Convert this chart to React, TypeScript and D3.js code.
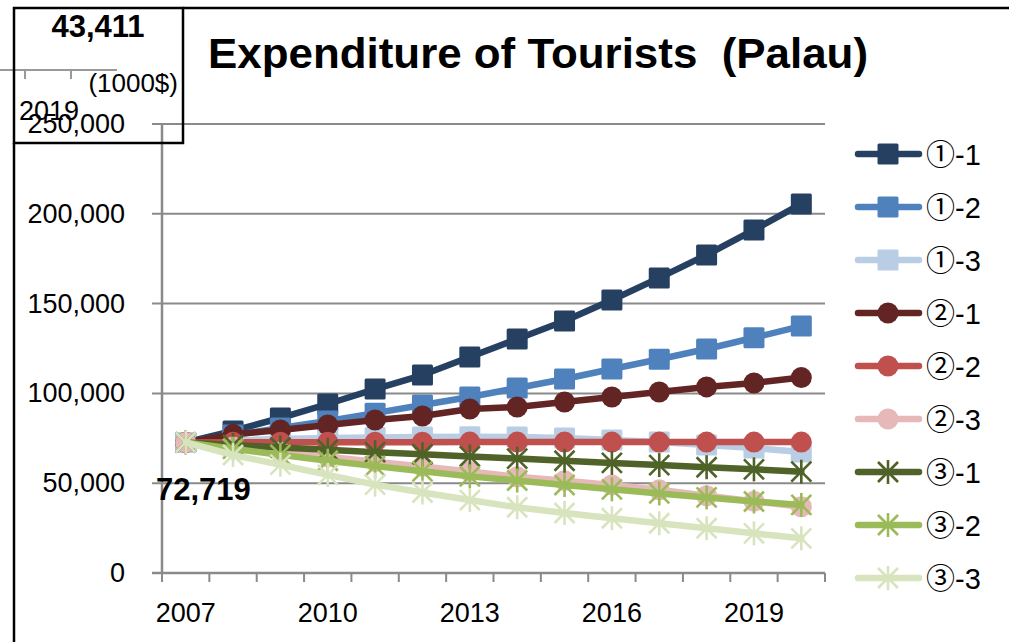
import React from "react";
import * as d3 from "d3";

const years = [2007, 2008, 2009, 2010, 2011, 2012, 2013, 2014, 2015, 2016, 2017, 2018, 2019, 2020];
const yearLabels = [2007, 2010, 2013, 2016, 2019];
const yTicks = [0, 50000, 100000, 150000, 200000, 250000];

const seriesNames = ["①-1", "①-2", "①-3", "②-1", "②-2", "②-3", "③-1", "③-2", "③-3"];
const seriesColors = ["#254061", "#4F81BD", "#B9CDE5", "#632523", "#C0504D", "#E6B9B8", "#4F6228", "#9BBB59", "#D7E4BD"];
const seriesMarkers = ["square", "square", "square", "circle", "circle", "circle", "star", "star", "star"];

const s11 = [72719, 79100, 86300, 94100, 102400, 110200, 120300, 130300, 140300, 152000, 164300, 177100, 191000, 205500];
const s12 = [72719, 76800, 80700, 84600, 89000, 93500, 98000, 103000, 108000, 113600, 119000, 124700, 131000, 137500];
const s13 = [72719, 73800, 74600, 75200, 75500, 75700, 75800, 75700, 75200, 74100, 73000, 71300, 69600, 67400];
const s21 = [72719, 77200, 79600, 82400, 85200, 87400, 91300, 92400, 95200, 98000, 100800, 103600, 105800, 108800];
const s22 = [72719, 72750, 72800, 72800, 72850, 72850, 72900, 72900, 72900, 72900, 72900, 72900, 72900, 72900];
const s23 = [72719, 70100, 67400, 64700, 62000, 59300, 56500, 53600, 51400, 49000, 46300, 43000, 39900, 36900];
const s31 = [72719, 71300, 69900, 68600, 67300, 66100, 64900, 63700, 62500, 61300, 60100, 58900, 57700, 56400];
const s32 = [72719, 69200, 65800, 62500, 59500, 56600, 53800, 51500, 49000, 46600, 44300, 42100, 39800, 37900];
const s33 = [72719, 65700, 60300, 54600, 49200, 44800, 40600, 36600, 33400, 30500, 27700, 24900, 22100, 19300];
const seriesValues = [s11, s12, s13, s21, s22, s23, s31, s32, s33];

const insetValue = "43,411";
const insetUnit = "(1000$)";
const insetYear = "2019";
const title = "Expenditure of Tourists  (Palau)";

const W = 1009;
const H = 642;
const plot = { left: 162, right: 825, top: 124, bottom: 573 };
const FONT = "'Liberation Sans', Arial, 'Noto Sans CJK JP', sans-serif";
const GRID = "#8a8a8a";

function Marker({ type, x, y, color }: { type: string; x: number; y: number; color: string }) {
  if (type === "square") {
    return <rect x={x - 10.5} y={y - 10.5} width={21} height={21} rx={1.5} fill={color} />;
  }
  if (type === "circle") {
    return <circle cx={x} cy={y} r={10.5} fill={color} />;
  }
  const r = 10;
  return (
    <g stroke={color} strokeWidth={2.6} strokeLinecap="butt">
      <line x1={x} y1={y - 12} x2={x} y2={y + 12} />
      <line x1={x - r} y1={y - r} x2={x + r} y2={y + r} />
      <line x1={x - r} y1={y + r} x2={x + r} y2={y - r} />
    </g>
  );
}

export default function App() {
  const x = d3.scaleBand<number>().domain(years).range([plot.left, plot.right]).padding(0);
  const y = d3.scaleLinear().domain([0, 250000]).range([plot.bottom, plot.top]);
  const bw = x.bandwidth();
  const cx = (yr: number) => (x(yr) as number) + bw / 2;
  const line = d3
    .line<number>()
    .x((_, i) => cx(years[i]))
    .y((d) => y(d));

  const boundaries = d3.range(years.length + 1).map((i) => plot.left + i * bw);

  return (
    <svg width={W} height={H} style={{ position: "fixed", left: 0, top: 0, background: "#fff" }} fontFamily={FONT}>
      <rect x={0} y={0} width={W} height={H} fill="#fff" />

      {/* gridlines */}
      {yTicks.map((t) => (
        <line key={"g" + t} x1={plot.left - 10} x2={plot.right} y1={y(t)} y2={y(t)} stroke={GRID} strokeWidth={2} />
      ))}
      {/* y axis */}
      <line x1={plot.left} x2={plot.left} y1={plot.top} y2={plot.bottom} stroke={GRID} strokeWidth={2.5} />
      {/* x axis ticks */}
      {boundaries.map((b, i) => (
        <line key={"xt" + i} x1={b} x2={b} y1={plot.bottom} y2={plot.bottom + 9} stroke={GRID} strokeWidth={2} />
      ))}
      <line x1={plot.left - 10} x2={plot.right} y1={plot.bottom} y2={plot.bottom} stroke={GRID} strokeWidth={2.5} />

      {/* y tick labels */}
      {yTicks.map((t) => (
        <text key={"yl" + t} x={125} y={y(t) + 9} textAnchor="end" fontSize={27} fill="#000">
          {d3.format(",")(t)}
        </text>
      ))}
      {/* x tick labels */}
      {yearLabels.map((yr) => (
        <text key={"xl" + yr} x={cx(yr)} y={622} textAnchor="middle" fontSize={27} fill="#000">
          {yr}
        </text>
      ))}

      {/* series */}
      {seriesValues.map((vals, si) => (
        <g key={"s" + si}>
          <path d={line(vals) || ""} fill="none" stroke={seriesColors[si]} strokeWidth={6.5} strokeLinejoin="round" strokeLinecap="round" />
          {vals.map((v, i) => (
            <Marker key={i} type={seriesMarkers[si]} x={cx(years[i])} y={y(v)} color={seriesColors[si]} />
          ))}
        </g>
      ))}

      {/* start label */}
      <text x={156} y={500} fontSize={31} fontWeight="bold" fill="#000">
        {d3.format(",")(s11[0])}
      </text>

      {/* legend */}
      {seriesNames.map((name, i) => {
        const ly = 154 + i * 53;
        return (
          <g key={"lg" + i}>
            <line x1={858} x2={919} y1={ly} y2={ly} stroke={seriesColors[i]} strokeWidth={6.5} strokeLinecap="round" />
            <Marker type={seriesMarkers[i]} x={888} y={ly} color={seriesColors[i]} />
            <text x={926} y={ly + 11} fontSize={29} fill="#000">
              {name}
            </text>
          </g>
        );
      })}

      {/* title */}
      <text
        x={538}
        y={68}
        textAnchor="middle"
        fontSize={42}
        fontWeight="bold"
        fill="#000"
        textLength={660}
        lengthAdjust="spacingAndGlyphs"
        xmlSpace="preserve"
        style={{ whiteSpace: "pre" }}
      >
        {title}
      </text>

      {/* inset fragment */}
      <line x1={0} x2={117} y1={70} y2={70} stroke="#999" strokeWidth={2} />
      <line x1={25} x2={25} y1={70} y2={79} stroke="#999" strokeWidth={2} />
      <line x1={71} x2={71} y1={70} y2={79} stroke="#999" strokeWidth={2} />
      <text x={98} y={37} textAnchor="middle" fontSize={31} fontWeight="bold" fill="#000">
        {insetValue}
      </text>
      <text x={178} y={92} textAnchor="end" fontSize={26} fill="#000">
        {insetUnit}
      </text>
      <text x={49} y={120} textAnchor="middle" fontSize={27} fill="#000">
        {insetYear}
      </text>

      {/* frames */}
      <rect x={14} y={8} width={169} height={135} fill="none" stroke="#000" strokeWidth={2.5} />
      <line x1={183} x2={W} y1={8} y2={8} stroke="#000" strokeWidth={2.5} />
      <line x1={14} x2={14} y1={143} y2={H} stroke="#000" strokeWidth={2.5} />
    </svg>
  );
}
